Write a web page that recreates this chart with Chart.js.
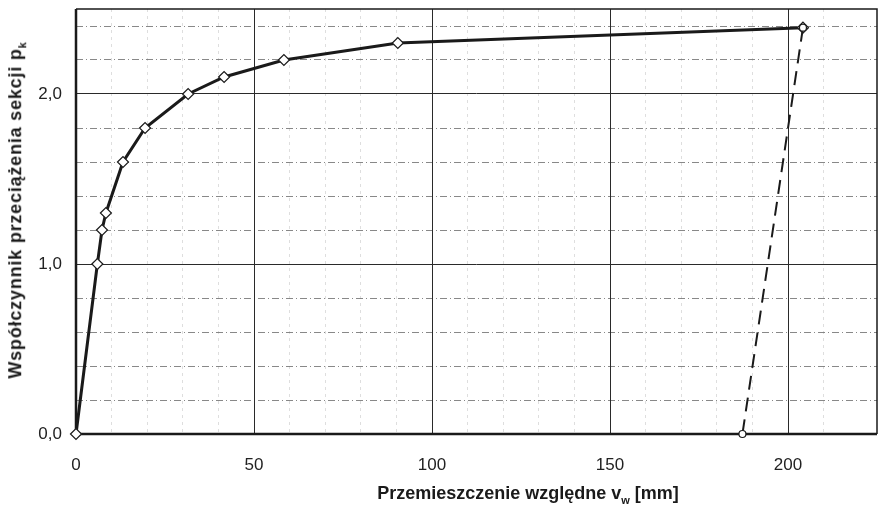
<!DOCTYPE html>
<html>
<head>
<meta charset="utf-8">
<script src="https://cdn.jsdelivr.net/npm/chart.js@4"></script>
<style>
  body { margin: 0; background: #fff; }
  #wrap { position: relative; width: 880px; height: 508px; }
  .title { position: absolute; white-space: nowrap; font-family: "Liberation Sans", Arial, sans-serif;
           font-weight: bold; font-size: 18px; color: #1a1a1a; line-height: 1; }
  .title sub { font-size: 11px; }
  #yTitle { left: 17px; top: 210px; letter-spacing: 0.8px; transform: translate(-50%, -50%) rotate(-90deg); }
  #xTitle { left: 528px; top: 495px; transform: translate(-50%, -50%); }
</style>
</head>
<body>
<div id="wrap">
  <canvas id="chart" width="880" height="508"></canvas>
  <div class="title" id="yTitle">Współczynnik przeciążenia sekcji p<sub>k</sub></div>
  <div class="title" id="xTitle">Przemieszczenie względne v<sub>w</sub> [mm]</div>
</div>
<script>
// -- Data --
const loadX = [0, 6, 7.3, 8.4, 13.2, 19.4, 31.5, 41.6, 58.4, 90.4, 204.2];
const loadY = [0, 1.0, 1.2, 1.3, 1.6, 1.8, 2.0, 2.1, 2.2, 2.3, 2.39];
const unloadX = [204.2, 187.2];
const unloadY = [2.39, 0];

const X_MIN = 0, X_MAX = 225, X_MAJOR = 50, X_MINOR = 10;
const Y_MIN = 0, Y_MAX = 2.5, Y_MAJOR = 1, Y_MINOR = 0.2;

const isMult = (v, step) => Math.abs(v / step - Math.round(v / step)) < 1e-6;

// ramka wykresu pod punktami
const framePlugin = {
    id: 'frame',
    beforeDatasetsDraw(chart) {
        const { ctx, chartArea: a } = chart;
        ctx.save();
        ctx.strokeStyle = '#1a1a1a';
        ctx.lineWidth = 1.5;
        ctx.beginPath();
        ctx.moveTo(a.left, a.top); ctx.lineTo(a.right, a.top); ctx.lineTo(a.right, a.bottom);
        ctx.stroke();
        ctx.lineWidth = 2.5;
        ctx.beginPath();
        ctx.moveTo(a.left, a.top); ctx.lineTo(a.left, a.bottom); ctx.lineTo(a.right, a.bottom);
        ctx.stroke();
        ctx.restore();
    }
};

const tickFont = { family: '"Liberation Sans", Arial, sans-serif', size: 17 };

// bez dodatkowego marginesu na etykiety skrajne
const noPad = s => { s.paddingTop = 0; s.paddingBottom = 0; s.paddingLeft = 0; s.paddingRight = 0; };

new Chart(document.getElementById('chart'), {
    type: 'scatter',
    data: {
        datasets: [{
            data: loadX.map((x, i) => ({ x, y: loadY[i] })),
            showLine: true,
            borderColor: '#1a1a1a',
            borderWidth: 3,
            pointStyle: 'rectRot',
            pointRadius: 5.5,
            pointBackgroundColor: '#fff',
            pointBorderColor: '#1a1a1a',
            pointBorderWidth: 1.2,
            clip: false,
            order: 1
        }, {
            data: unloadX.map((x, i) => ({ x, y: unloadY[i] })),
            showLine: true,
            borderColor: '#1a1a1a',
            borderWidth: 2,
            borderDash: [14, 8],
            pointStyle: 'circle',
            pointRadius: 3.5,
            pointBackgroundColor: '#fff',
            pointBorderColor: '#1a1a1a',
            pointBorderWidth: 1.2,
            clip: false,
            order: 0
        }]
    },
    options: {
        responsive: false,
        animation: false,
        layout: { autoPadding: false, padding: { top: 9, right: 3, left: 0, bottom: 0 } },
        plugins: { legend: { display: false }, tooltip: { enabled: false } },
        scales: {
            xMinor: {
                type: 'linear', position: 'bottom', min: X_MIN, max: X_MAX,
                ticks: { display: false, stepSize: X_MINOR },
                grid: {
                    drawTicks: false, lineWidth: 0.8,
                    color: c => (isMult(c.tick.value, X_MAJOR) || c.tick.value === X_MAX) ? 'rgba(0,0,0,0)' : '#d6d6d6'
                },
                border: { display: false, dash: [3, 4] },
                afterFit: s => { s.height = 0; noPad(s); }
            },
            yMinor: {
                type: 'linear', position: 'left', min: Y_MIN, max: Y_MAX,
                ticks: { display: false, stepSize: Y_MINOR },
                grid: {
                    drawTicks: false, lineWidth: 0.9,
                    color: c => (isMult(c.tick.value, Y_MAJOR) || c.tick.value === Y_MAX) ? 'rgba(0,0,0,0)' : '#7a7a7a'
                },
                border: { display: false, dash: [7, 3, 1, 3] },
                afterFit: s => { s.width = 0; noPad(s); }
            },
            x: {
                type: 'linear', position: 'bottom', min: X_MIN, max: X_MAX,
                ticks: {
                    stepSize: X_MAJOR, autoSkip: false, maxRotation: 0, padding: 21,
                    color: '#222', font: tickFont,
                    callback: v => isMult(v, X_MAJOR) ? String(v) : ''
                },
                grid: {
                    drawTicks: false, lineWidth: 1,
                    color: c => c.tick.value === X_MAX ? 'rgba(0,0,0,0)' : '#2a2a2a'
                },
                border: { display: false },
                afterFit: s => { s.height = 74; noPad(s); }
            },
            y: {
                type: 'linear', position: 'left', min: Y_MIN, max: Y_MAX,
                ticks: {
                    stepSize: Y_MAJOR, autoSkip: false, padding: 14,
                    color: '#222', font: tickFont,
                    callback: v => isMult(v, Y_MAJOR) ? v.toFixed(1).replace('.', ',') : ''
                },
                grid: {
                    drawTicks: false, lineWidth: 1,
                    color: c => c.tick.value === Y_MAX ? 'rgba(0,0,0,0)' : '#2a2a2a'
                },
                border: { display: false },
                afterFit: s => { s.width = 76; noPad(s); }
            }
        }
    },
    plugins: [framePlugin]
});
</script>
</body>
</html>
